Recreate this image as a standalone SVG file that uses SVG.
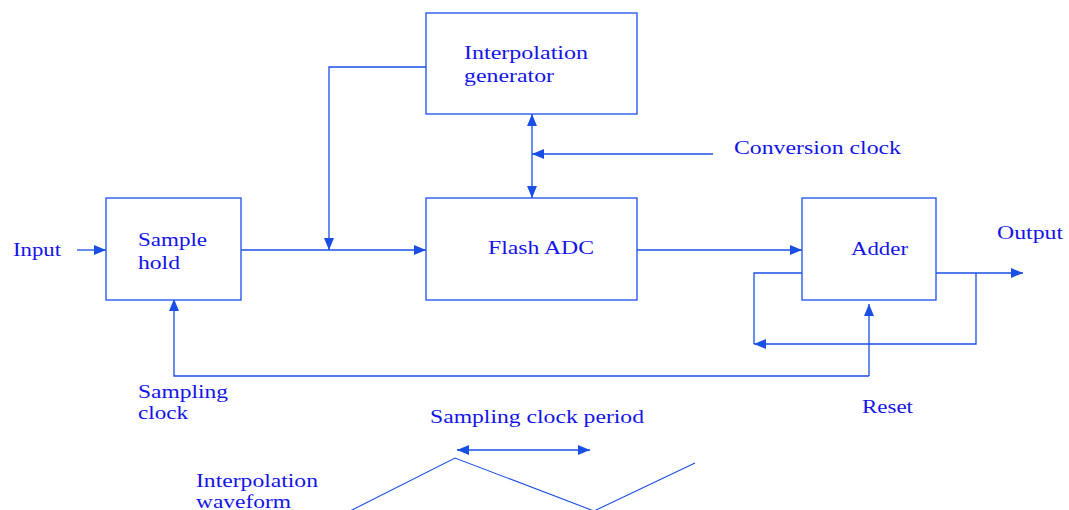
<svg xmlns="http://www.w3.org/2000/svg" width="1069" height="510" viewBox="0 0 1069 510">
  <style>
    .box { fill: #ffffff; stroke: #2a5cf0; stroke-width: 1.4; }
    .wire { fill: none; stroke: #1a4fe6; stroke-width: 1.3; }
    .wave { fill: none; stroke: #1a4fe6; stroke-width: 1.1; }
    .lbl { font-family: "Liberation Serif", "Times New Roman", serif; font-size: 18.5px; fill: #1414e8; }
  </style>
  <defs>
    <marker id="arrow" viewBox="0 0 12 10" refX="12" refY="5" markerWidth="12" markerHeight="10" markerUnits="userSpaceOnUse" orient="auto-start-reverse">
      <path d="M0,0 L12,5 L0,10 Z" fill="#1a4fe6"/>
    </marker>
  </defs>

  <rect width="1069" height="510" fill="#ffffff"/>

  <!-- connectors -->
  <g id="connectors">
    <!-- input into sample and hold -->
    <line class="wire" x1="77" y1="250" x2="106" y2="250" marker-end="url(#arrow)"/>
    <!-- sample and hold to flash ADC -->
    <line class="wire" x1="241" y1="250" x2="426" y2="250" marker-end="url(#arrow)"/>
    <!-- interpolation generator feed to the ADC input node -->
    <polyline class="wire" points="426,67 329,67 329,250" marker-end="url(#arrow)"/>
    <!-- bidirectional link generator / flash ADC -->
    <line class="wire" x1="532" y1="114" x2="532" y2="198" marker-start="url(#arrow)" marker-end="url(#arrow)"/>
    <!-- conversion clock -->
    <line class="wire" x1="713" y1="154" x2="532" y2="154" marker-end="url(#arrow)"/>
    <!-- flash ADC to adder -->
    <line class="wire" x1="637" y1="250" x2="802" y2="250" marker-end="url(#arrow)"/>
    <!-- adder output -->
    <line class="wire" x1="936" y1="273" x2="1023" y2="273" marker-end="url(#arrow)"/>
    <!-- accumulator feedback loop -->
    <polyline class="wire" points="976,273 976,344 754,344" marker-end="url(#arrow)"/>
    <polyline class="wire" points="754,344 754,273 802,273"/>
    <!-- sampling clock / reset line -->
    <polyline class="wire" points="869,376 174,376 174,299" marker-end="url(#arrow)"/>
    <line class="wire" x1="869" y1="376" x2="869" y2="304" marker-end="url(#arrow)"/>
    <!-- sampling clock period span -->
    <line class="wire" x1="457" y1="450" x2="590" y2="450" marker-start="url(#arrow)" marker-end="url(#arrow)"/>
  </g>

  <!-- interpolation waveform -->
  <g id="waveform">
    <polyline class="wave" points="350,511 455,458 594,511 695,463"/>
    <text class="lbl" x="196" y="487" textLength="122" lengthAdjust="spacingAndGlyphs">Interpolation</text>
    <text class="lbl" x="196" y="508" textLength="95" lengthAdjust="spacingAndGlyphs">waveform</text>
  </g>

  <g id="sample-hold">
    <rect class="box" x="106" y="198" width="135" height="102"/>
    <text class="lbl" x="138" y="246" textLength="69" lengthAdjust="spacingAndGlyphs">Sample</text>
    <text class="lbl" x="138" y="269" textLength="42" lengthAdjust="spacingAndGlyphs">hold</text>
  </g>

  <g id="interpolation-generator">
    <rect class="box" x="426" y="13" width="211" height="101"/>
    <text class="lbl" x="464" y="59" textLength="124" lengthAdjust="spacingAndGlyphs">Interpolation</text>
    <text class="lbl" x="464" y="82" textLength="90" lengthAdjust="spacingAndGlyphs">generator</text>
  </g>

  <g id="flash-adc">
    <rect class="box" x="426" y="198" width="211" height="102"/>
    <text class="lbl" x="488" y="254" textLength="106" lengthAdjust="spacingAndGlyphs">Flash ADC</text>
  </g>

  <g id="adder">
    <rect class="box" x="802" y="198" width="134" height="102"/>
    <text class="lbl" x="851" y="255" textLength="57" lengthAdjust="spacingAndGlyphs">Adder</text>
  </g>

  <!-- signal labels -->
  <g id="labels">
    <text class="lbl" x="13" y="256" textLength="48" lengthAdjust="spacingAndGlyphs">Input</text>
    <text class="lbl" x="734" y="154" textLength="167" lengthAdjust="spacingAndGlyphs">Conversion clock</text>
    <text class="lbl" x="997" y="239" textLength="66" lengthAdjust="spacingAndGlyphs">Output</text>
    <text class="lbl" x="862" y="413" textLength="51" lengthAdjust="spacingAndGlyphs">Reset</text>
    <text class="lbl" x="138" y="398" textLength="90" lengthAdjust="spacingAndGlyphs">Sampling</text>
    <text class="lbl" x="138" y="419" textLength="50" lengthAdjust="spacingAndGlyphs">clock</text>
    <text class="lbl" x="430" y="423" textLength="214" lengthAdjust="spacingAndGlyphs">Sampling clock period</text>
  </g>
</svg>
